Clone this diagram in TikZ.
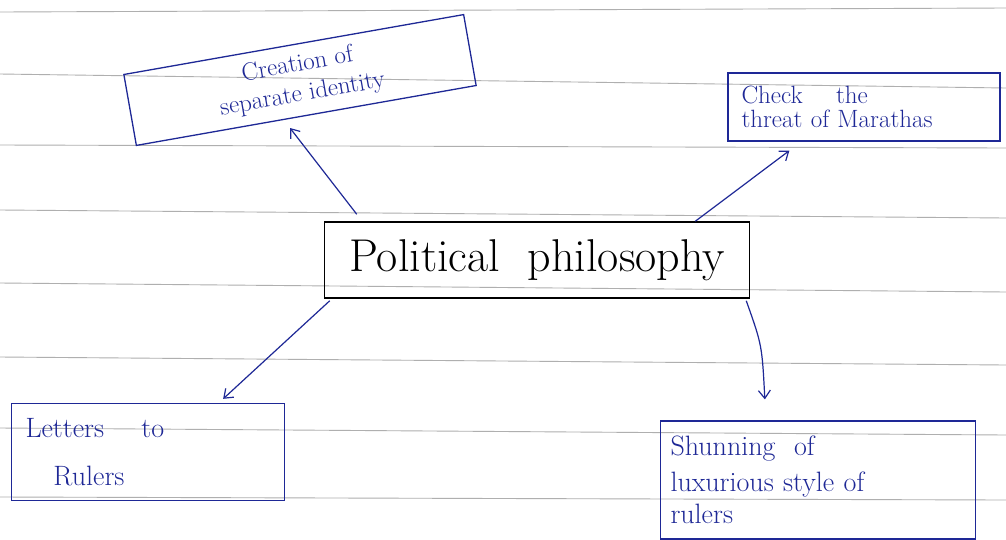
\documentclass[tikz,border=0pt]{standalone}
\usepackage{fontspec}
\usetikzlibrary{arrows.meta,calc}
\definecolor{ink}{RGB}{30,40,150}
\definecolor{rulecol}{RGB}{175,175,175}
\begin{document}
\begin{tikzpicture}[x=1pt,y=-1pt,
  box/.style={draw=ink,line width=1.3pt,text=ink,inner sep=0pt},
  arr/.style={draw=ink,line width=1.2pt,-{Straight Barb[length=8pt,width=12pt,line width=1.2pt]}},
  rl/.style={draw=rulecol,line width=0.9pt}]
\useasboundingbox (0,0) rectangle (1006,539);
\fill[white] (0,0) rectangle (1006,539);
\foreach \a/\b in {12/8,74/88,145/148,210/218,283/292,357/365,428/435,497/500}
  \draw[rl] (0,\a) -- (1006,\b);

\node[box, rotate=10, minimum width=345pt, minimum height=72pt, align=center,
  font=\fontsize{25}{30}\selectfont] (c) at (300,80) {Creation of\\separate identity};

\node[box, minimum width=272pt, minimum height=68pt, align=left, text width=245pt,
  font=\fontsize{25}{24}\selectfont] (t) at (864,107) {Check \quad the\\threat of Marathas};

\node[draw=black, line width=1.5pt, minimum width=425pt, minimum height=76pt, inner sep=0pt,
  font=\fontsize{46}{48}\selectfont] (p) at (537,260) {Political \ philosophy};

\node[box, minimum width=273pt, minimum height=97pt, align=left, text width=245pt,
  font=\fontsize{28}{30}\selectfont] (l) at (148,452) {Letters \quad to\\[18pt]\quad Rulers};

\node[box, minimum width=315pt, minimum height=118pt, align=left, text width=295pt,
  font=\fontsize{28}{30}\selectfont] (s) at (818,480) {Shunning \ of\\[6pt]luxurious style of\\[2pt]rulers};

\draw[arr] ([shift={(33,-7)}]p.north west) -- (290,128);
\draw[arr] ([shift={(-55,0)}]p.north east) -- ([shift={(62,9)}]t.south west);
\draw[arr] ([shift={(6,2)}]p.south west) -- ([shift={(-62,-4)}]l.north east);
\draw[arr] ([shift={(-4,2)}]p.south east) .. controls (762,345) .. ([shift={(105,-21)}]s.north west);
\end{tikzpicture}
\end{document}
